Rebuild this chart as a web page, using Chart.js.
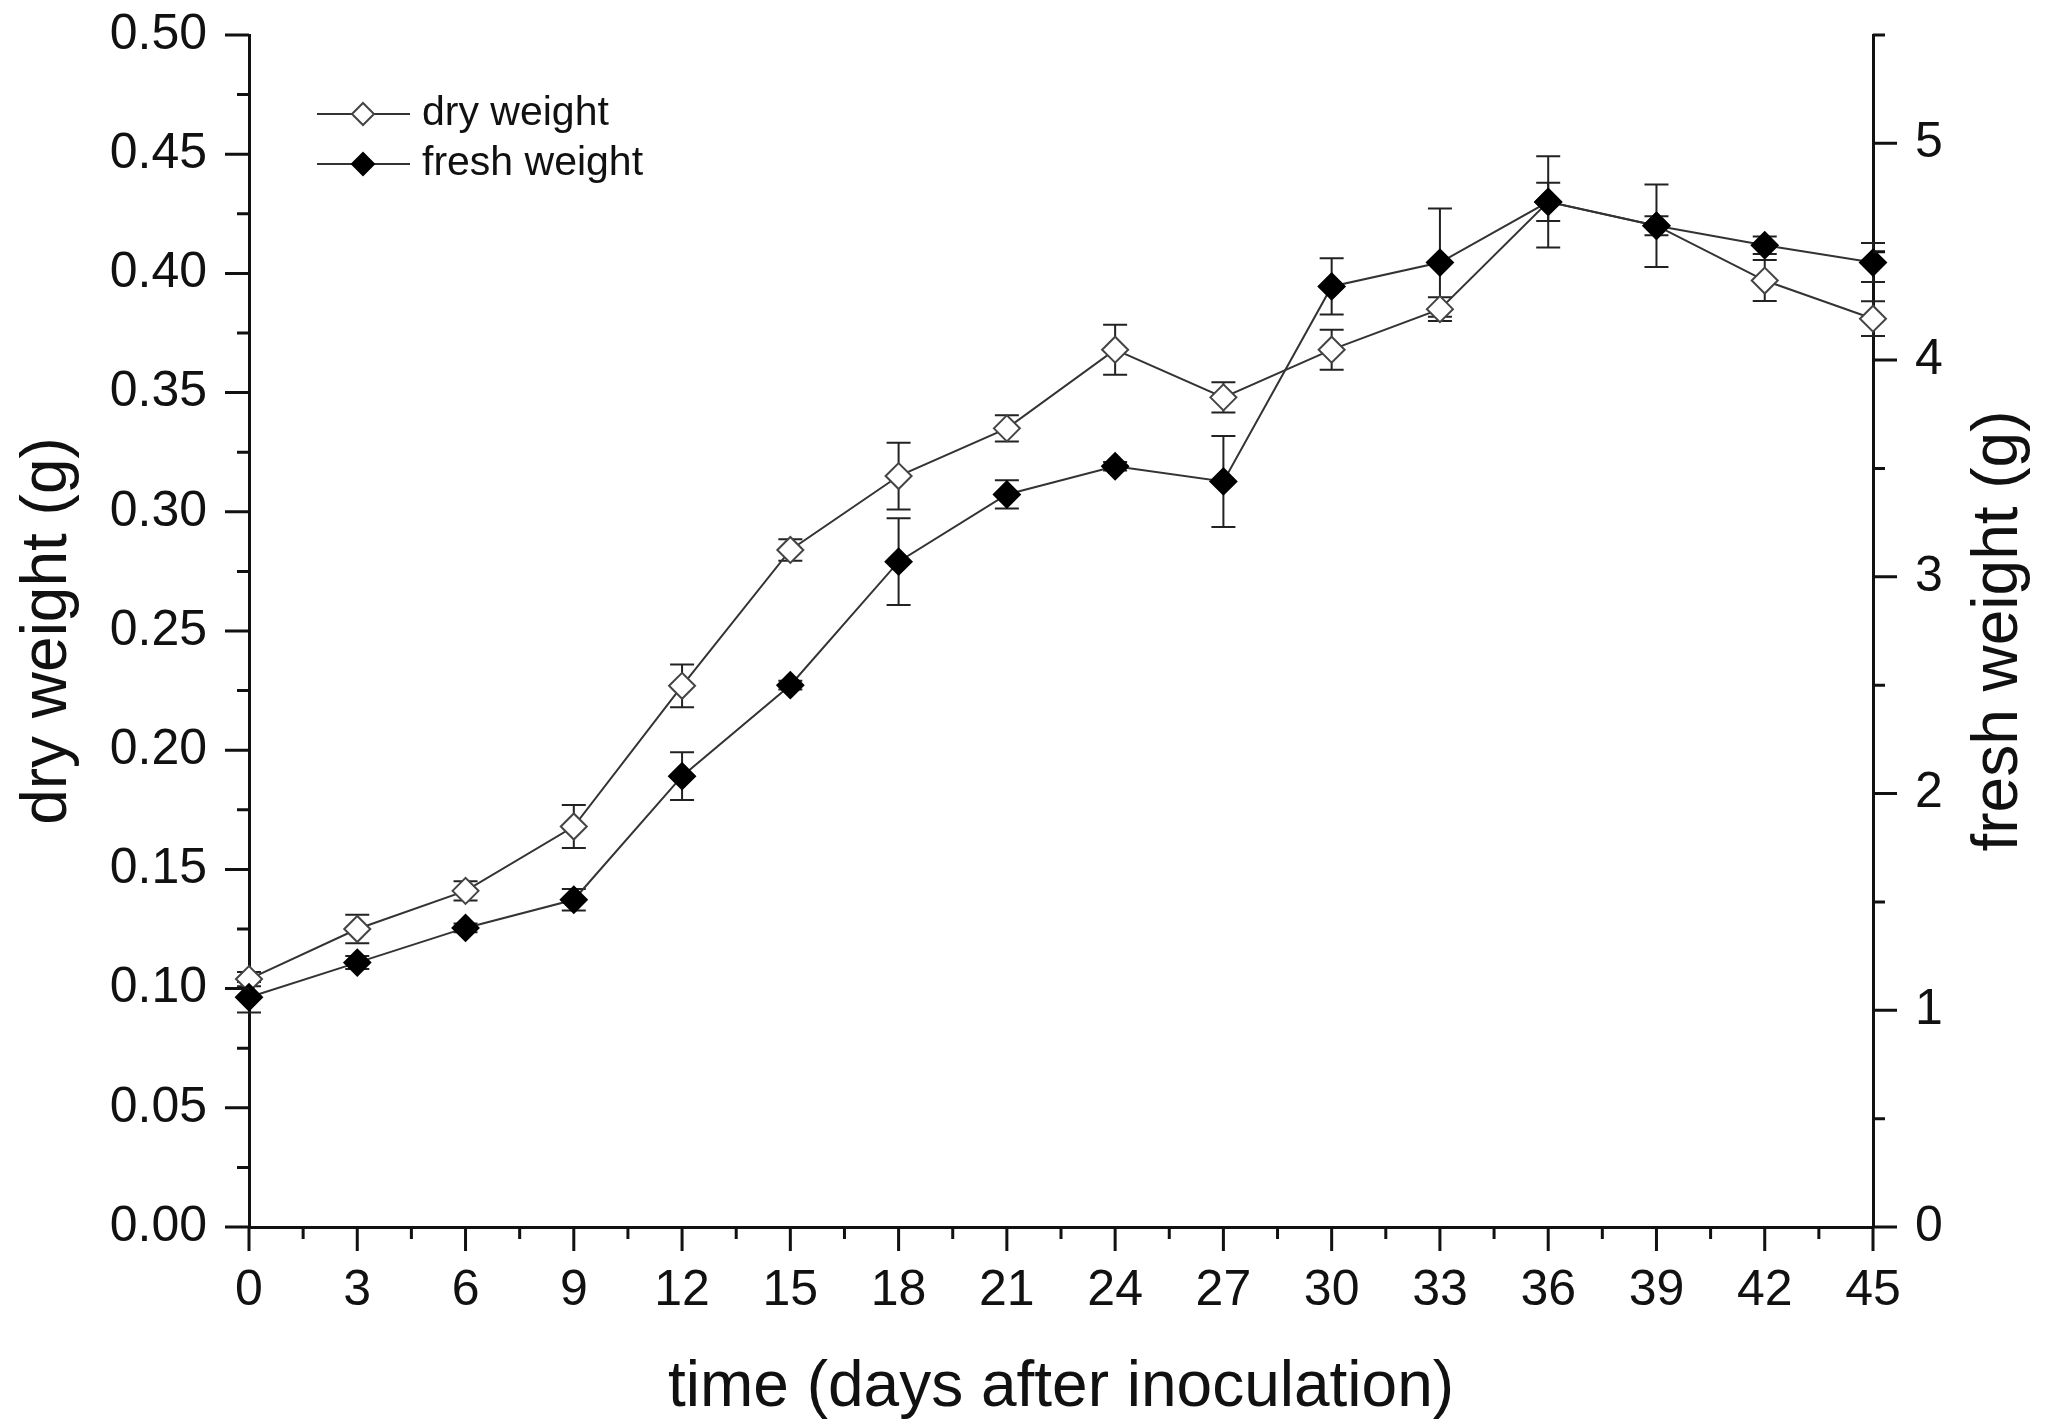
<!DOCTYPE html>
<html>
<head>
<meta charset="utf-8">
<title>dry and fresh weight</title>
<script src="https://cdn.jsdelivr.net/npm/chart.js@4.4.1/dist/chart.umd.min.js"></script>
<style>
    html, body { margin: 0; padding: 0; background: #fff; }
    #wrap { width: 2055px; height: 1427px; }
</style>
</head>
<body>
<div id="wrap"><canvas id="weightChart" width="2055" height="1427"></canvas></div>
<script>
// ── Data ─────────────────────────────────────────────────────────────────────
const days        = [0, 3, 6, 9, 12, 15, 18, 21, 24, 27, 30, 33, 36, 39, 42, 45];
const dryWeight   = [0.104, 0.125, 0.141, 0.168, 0.227, 0.284, 0.315, 0.335, 0.368, 0.348, 0.368, 0.385, 0.430, 0.420, 0.397, 0.381];
const dryErr      = [0.003, 0.006, 0.004, 0.009, 0.009, 0.0045, 0.014, 0.0055, 0.0105, 0.0063, 0.0084, 0.005, 0.008, 0.004, 0.0086, 0.0073];
const freshWeight = [1.06, 1.22, 1.38, 1.51, 2.08, 2.50, 3.07, 3.38, 3.51, 3.44, 4.34, 4.45, 4.73, 4.62, 4.53, 4.45];
const freshErr    = [0.07, 0.03, 0.02, 0.05, 0.11, 0.02, 0.20, 0.065, 0.02, 0.21, 0.13, 0.25, 0.21, 0.19, 0.04, 0.09];

const seriesLabels = ['dry weight', 'fresh weight'];
const axisTitles   = ['time (days after inoculation)', 'dry weight (g)', 'fresh weight (g)'];

// ── Theme ────────────────────────────────────────────────────────────────────
const FONT = "'Liberation Sans', Arial, Helvetica, sans-serif";
const INK = '#111';
const LINE = '#333';
const CAP = 12;          // half width of error bar caps
const MAJOR_TICK = 24;
const MINOR_TICK = 12;

const toPoints = (ys) => days.map((d, i) => ({ x: d, y: ys[i] }));

// Vertical scales: fixed width, and no extra top/bottom room for labels
const fitVertical = (width) => (s) => {
    s.width = width;
    s.paddingTop = 0;
    s.paddingBottom = 0;
};

// Error bars go under the lines and markers
const errorBars = {
    id: 'errorBars',
    beforeDatasetsDraw(chart) {
        const { ctx } = chart;
        chart.data.datasets.forEach((ds, i) => {
            const meta = chart.getDatasetMeta(i);
            const yScale = chart.scales[ds.yAxisID];
            ctx.save();
            ctx.strokeStyle = '#222';
            ctx.lineWidth = 2;
            meta.data.forEach((pt, j) => {
                const v = ds.data[j].y;
                const e = ds.errors[j];
                const top = yScale.getPixelForValue(v + e);
                const bot = yScale.getPixelForValue(v - e);
                ctx.beginPath();
                ctx.moveTo(pt.x, top);
                ctx.lineTo(pt.x, bot);
                ctx.moveTo(pt.x - CAP, top);
                ctx.lineTo(pt.x + CAP, top);
                ctx.moveTo(pt.x - CAP, bot);
                ctx.lineTo(pt.x + CAP, bot);
                ctx.stroke();
            });
            ctx.restore();
        });
    },
};

// Outward major/minor tick marks on all three axes
const tickMarks = {
    id: 'tickMarks',
    afterDraw(chart) {
        const { ctx, chartArea: a, scales } = chart;
        ctx.save();
        ctx.strokeStyle = INK;
        ctx.lineWidth = 3;
        ctx.beginPath();
        for (let i = 0; i <= 30; i++) {
            const px = scales.x.getPixelForValue(i * 1.5);
            ctx.moveTo(px, a.bottom);
            ctx.lineTo(px, a.bottom + (i % 2 === 0 ? MAJOR_TICK : MINOR_TICK));
        }
        for (let i = 0; i <= 20; i++) {
            const py = scales.y.getPixelForValue(i * 0.025);
            ctx.moveTo(a.left, py);
            ctx.lineTo(a.left - (i % 2 === 0 ? MAJOR_TICK : MINOR_TICK), py);
        }
        for (let i = 0; i <= 11; i++) {
            const py = scales.y2.getPixelForValue(i * 0.5);
            ctx.moveTo(a.right, py);
            ctx.lineTo(a.right + (i % 2 === 0 ? MAJOR_TICK : MINOR_TICK), py);
        }
        ctx.stroke();
        ctx.restore();
    },
};

// Legend sits inside the plot, top left
const legendBox = {
    id: 'legendBox',
    afterDraw(chart) {
        const { ctx, chartArea: a } = chart;
        const x0 = a.left + 68, x1 = a.left + 161, xm = a.left + 114;
        ctx.save();
        chart.data.datasets.forEach((ds, i) => {
            const y = a.top + 79 + i * 50;
            ctx.strokeStyle = LINE;
            ctx.lineWidth = 2;
            ctx.beginPath();
            ctx.moveTo(x0, y);
            ctx.lineTo(x1, y);
            ctx.stroke();
            ctx.fillStyle = ds.pointBackgroundColor;
            ctx.strokeStyle = ds.pointBorderColor;
            Chart.helpers.drawPoint(ctx, { pointStyle: 'rectRot', radius: 11, borderWidth: 2 }, xm, y);
            ctx.fillStyle = INK;
            ctx.font = `41px ${FONT}`;
            ctx.textAlign = 'left';
            ctx.textBaseline = 'middle';
            ctx.fillText(ds.label, a.left + 173, y);
        });
        ctx.restore();
    },
};

// Right axis title reads bottom to top, like the left one
const rightTitle = {
    id: 'rightTitle',
    afterDraw(chart) {
        const { ctx, chartArea: a } = chart;
        ctx.save();
        ctx.translate(1999, (a.top + a.bottom) / 2);
        ctx.rotate(-Math.PI / 2);
        ctx.fillStyle = INK;
        ctx.font = `64px ${FONT}`;
        ctx.textAlign = 'center';
        ctx.textBaseline = 'middle';
        ctx.fillText(axisTitles[2], 0, 0);
        ctx.restore();
    },
};

const tickFont = { family: FONT, size: 50 };
const titleFont = { family: FONT, size: 64 };

new Chart(document.getElementById('weightChart'), {
    type: 'line',
    data: {
        datasets: [
            {
                label: seriesLabels[0],
                data: toPoints(dryWeight),
                errors: dryErr,
                yAxisID: 'y',
                borderColor: LINE,
                borderWidth: 2,
                pointStyle: 'rectRot',
                pointRadius: 13,
                pointHoverRadius: 13,
                pointBackgroundColor: '#fff',
                pointBorderColor: '#444',
                pointBorderWidth: 2,
                clip: false,
                order: 1,
            },
            {
                label: seriesLabels[1],
                data: toPoints(freshWeight),
                errors: freshErr,
                yAxisID: 'y2',
                borderColor: LINE,
                borderWidth: 2,
                pointStyle: 'rectRot',
                pointRadius: 13,
                pointHoverRadius: 13,
                pointBackgroundColor: '#000',
                pointBorderColor: '#000',
                pointBorderWidth: 2,
                clip: false,
                order: 0,
            },
        ],
    },
    options: {
        responsive: false,
        animation: false,
        devicePixelRatio: 1,
        layout: { padding: { top: 35 } },
        plugins: {
            legend: { display: false },
            tooltip: { enabled: false },
        },
        scales: {
            x: {
                type: 'linear',
                min: 0,
                max: 45,
                grid: { display: false, drawTicks: false, tickLength: 0 },
                border: { color: INK, width: 3 },
                ticks: { stepSize: 3, padding: 34, color: INK, font: tickFont, maxRotation: 0 },
                title: { display: true, text: axisTitles[0], color: INK, font: titleFont, padding: 0 },
                afterFit: (s) => { s.height = 200; },
            },
            y: {
                position: 'left',
                min: 0,
                max: 0.5,
                grid: { display: false, drawTicks: false, tickLength: 0 },
                border: { color: INK, width: 3 },
                ticks: { stepSize: 0.05, padding: 42, color: INK, font: tickFont, callback: (v) => v.toFixed(2) },
                title: { display: true, text: axisTitles[1], color: INK, font: titleFont, padding: { top: 10 } },
                afterFit: fitVertical(249),
            },
            y2: {
                position: 'right',
                min: 0,
                max: 5.5,
                grid: { display: false, drawTicks: false, tickLength: 0 },
                border: { color: INK, width: 3 },
                ticks: {
                    stepSize: 1,
                    padding: 42,
                    color: INK,
                    font: tickFont,
                    callback: (v) => (Number.isInteger(v) ? String(v) : null),
                },
                afterFit: fitVertical(182),
            },
        },
    },
    plugins: [errorBars, tickMarks, legendBox, rightTitle],
});
</script>
</body>
</html>
